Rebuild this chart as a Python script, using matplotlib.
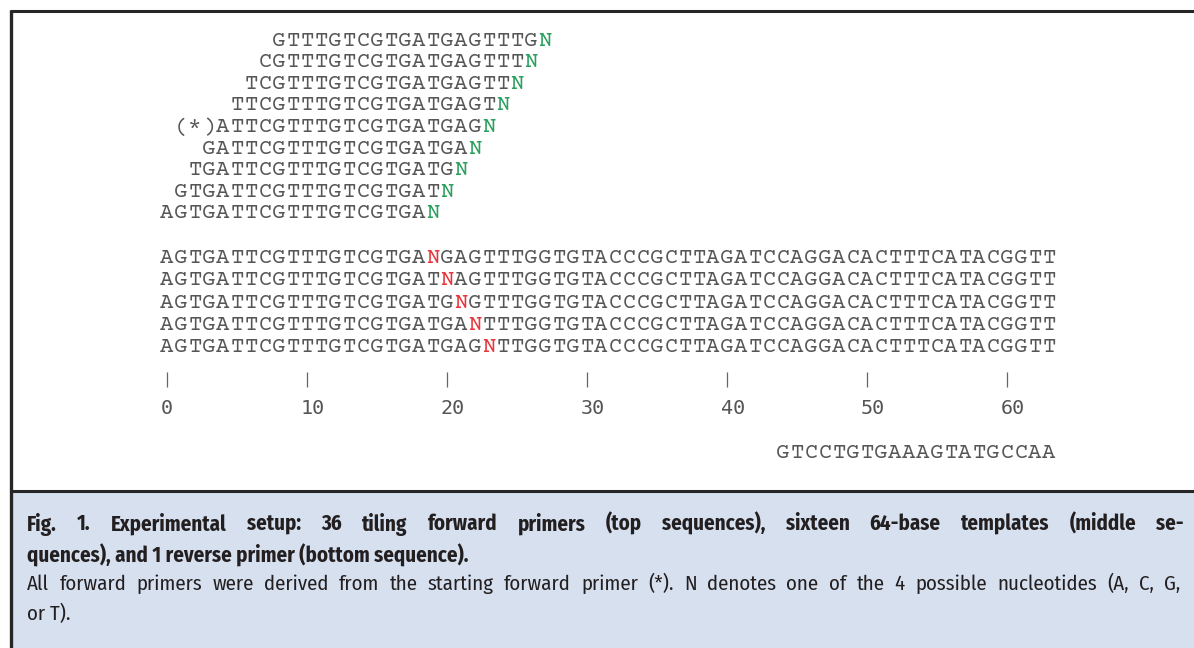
#!/usr/bin/env python3
# -*- coding: utf-8 -*-

import matplotlib
matplotlib.use("Agg")
import matplotlib.pyplot as plt
from matplotlib import font_manager
from matplotlib.patches import Rectangle

# --- data ---
template = "AGTGATTCGTTTGTCGTGATGAGTTTGGTGTACCCGCTTAGATCCAGGACACTTTCATACGGTT"
primer_offsets = [8, 7, 6, 5, 4, 3, 2, 1, 0]     # top to bottom
primer_len = 19                                  # bases before the N
start_primer_offset = 4                          # the (*) primer
n_positions = [19, 20, 21, 22, 23]               # N position in each template row
ruler_ticks = [0, 10, 20, 30, 40, 50, 60]
reverse_primer = "GTCCTGTGAAAGTATGCCAA"
reverse_start = 44

caption_bold = [
    "Fig. 1. Experimental setup: 36 tiling forward primers (top sequences), sixteen 64-base templates (middle se-",
    "quences), and 1 reverse primer (bottom sequence).",
]
caption_body = [
    "All forward primers were derived from the starting forward primer (*). N denotes one of the 4 possible nucleotides (A, C, G,",
    "or T).",
]

# --- fonts ---
faces = {}
for f in font_manager.fontManager.ttflist:
    try:
        w = int(f.weight)
    except (TypeError, ValueError):
        w = 700 if "bold" in str(f.weight) else 400
    faces.setdefault(f.name, set()).add((w, f.style))


def pick(prefs, need_bold=False):
    for name in prefs:
        ws = faces.get(name)
        if not ws:
            continue
        if need_bold and not any(w >= 700 and s == "normal" for w, s in ws):
            continue
        return name
    return prefs[-1]


MONO = pick(["Courier Prime", "Cutive Mono", "Liberation Mono"])
CAP_FONT = pick(["Fira Sans Condensed", "Asap Condensed", "Roboto Condensed",
                 "IBM Plex Sans Condensed", "PT Sans Narrow", "Roboto"], need_bold=True)

# --- layout ---
X0, CW = 160, 14.0
SEQ_COLOR = "#565656"
GREEN, RED = "#2a9f5e", "#e8363c"
SEQ_SIZE = 16
CAP_COLOR = "#231f20"
CAP_MAX = 15.0

fig = plt.figure(figsize=(11.94, 6.48), dpi=100)
ax = fig.add_axes([0, 0, 1, 1])
ax.set_xlim(0, 1194)
ax.set_ylim(648, 0)
ax.axis("off")


def put_chars(s, col0, y, color=SEQ_COLOR):
    for k, ch in enumerate(s):
        ax.text(X0 + (col0 + k) * CW + CW / 2, y, ch, ha="center", va="baseline",
                family=MONO, fontsize=SEQ_SIZE, color=color)


# forward primers
for i, off in enumerate(primer_offsets):
    y = 45.6 + 21.6 * i
    put_chars(template[off:off + primer_len], off, y)
    put_chars("N", off + primer_len, y, GREEN)
    if off == start_primer_offset:
        put_chars("(*)", off - 3, y)

# templates
for i, pos in enumerate(n_positions):
    y = 263.3 + 22.1 * i
    put_chars(template[:pos], 0, y)
    put_chars("N", pos, y, RED)
    put_chars(template[pos + 1:], pos + 1, y)

# ruler
for t in ruler_ticks:
    xc = X0 + t * CW + CW / 2
    ax.plot([xc, xc], [371.5, 387], color="#666666", lw=0.9, solid_capstyle="butt")
    ax.text(xc - 6, 414, str(t), ha="left", va="baseline", family="DejaVu Sans Mono",
            fontsize=14.5, color="#555555")

# reverse primer
put_chars(reverse_primer, reverse_start, 458)

# frame and caption box
ax.add_patch(Rectangle((12, 492.5), 1190, 160, facecolor="#d6e0ef", edgecolor="none"))
ax.plot([10.5, 10.5], [9.5, 650], color="#262626", lw=2.4, solid_capstyle="butt")
ax.plot([9.5, 1200], [11, 11], color="#262626", lw=2.2, solid_capstyle="butt")
ax.plot([9.5, 1200], [491.3, 491.3], color="#262626", lw=2.2, solid_capstyle="butt")

renderer = fig.canvas.get_renderer()
X_LEFT = 27


def make_words(line, y, weight, size):
    return [ax.text(X_LEFT, y, w, ha="left", va="baseline", family=CAP_FONT,
                    fontsize=size, fontweight=weight, color=CAP_COLOR)
            for w in line.split(" ")]


def natural_width(line, weight, size):
    texts = make_words(line, 0, weight, size)
    w = sum(t.get_window_extent(renderer).width for t in texts)
    for t in texts:
        t.remove()
    space = 0.27 * size * 100 / 72
    return w + space * (len(texts) - 1)


# largest size (up to CAP_MAX) for which the justified lines fit
cap_size = CAP_MAX
for line, weight, right in [(caption_bold[0], "bold", 1184), (caption_body[0], "normal", 1180)]:
    w = natural_width(line, weight, CAP_MAX)
    cap_size = min(cap_size, CAP_MAX * (right - X_LEFT) / w)


def caption_line(line, y, weight, x_right=None):
    if x_right is None:
        ax.text(X_LEFT, y, line, ha="left", va="baseline", family=CAP_FONT,
                fontsize=cap_size, fontweight=weight, color=CAP_COLOR)
        return
    texts = make_words(line, y, weight, cap_size)
    widths = [t.get_window_extent(renderer).width for t in texts]
    gap = (x_right - X_LEFT - sum(widths)) / (len(texts) - 1)
    x = X_LEFT
    for t, w in zip(texts, widths):
        t.set_x(x)
        x += w + gap


caption_line(caption_bold[0], 530.5, "bold", x_right=1184)
caption_line(caption_bold[1], 563, "bold")
caption_line(caption_body[0], 590, "normal", x_right=1180)
caption_line(caption_body[1], 620, "normal")

fig.savefig("out.png", dpi=100)
